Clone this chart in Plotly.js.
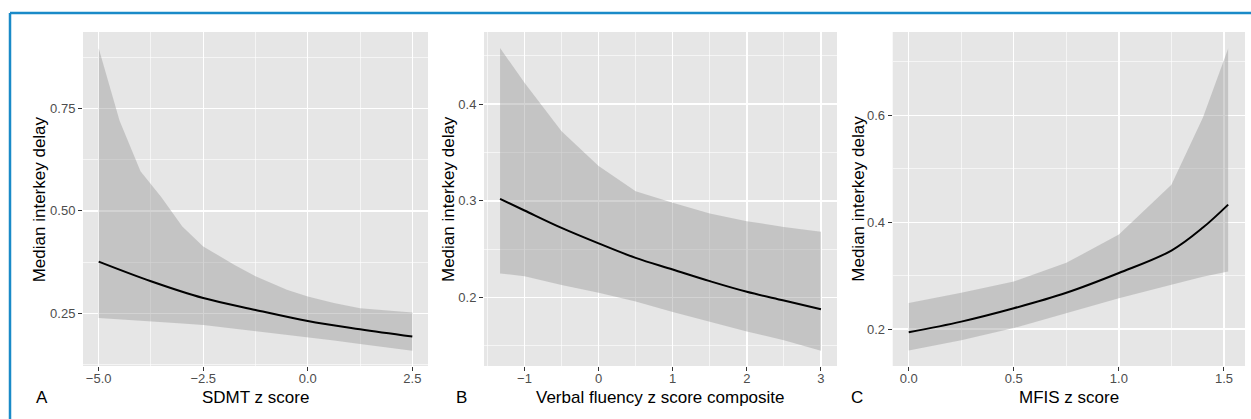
<!DOCTYPE html>
<html>
<head>
<meta charset="utf-8">
<script src="https://cdn.plot.ly/plotly-3.0.1.min.js"></script>
<style>
html,body{margin:0;padding:0;background:#fff;}
#chart{width:1251px;height:419px;}
</style>
</head>
<body>
<div id="chart"></div>
<script>
// Panel A: SDMT z score
var sdmtFitX   = [-5, -3.75, -2.5, -1.25, 0, 1.25, 2.5];
var sdmtFit    = [0.376, 0.328, 0.287, 0.258, 0.231, 0.211, 0.193];
var sdmtBandX  = [-5, -4.5, -4, -3.5, -3, -2.5, -1.75, -1.25, -0.5, 0, 0.625, 1.25, 2.5];
var sdmtUpper  = [0.897, 0.720, 0.597, 0.533, 0.462, 0.413, 0.368, 0.340, 0.307, 0.291, 0.275, 0.262, 0.252];
var sdmtLower  = [0.238, 0.235, 0.232, 0.229, 0.225, 0.221, 0.212, 0.207, 0.198, 0.191, 0.183, 0.175, 0.158];

// Panel B: Verbal fluency z score composite
var vfX        = [-1.33, -1, -0.5, 0, 0.5, 1, 1.5, 2, 2.5, 3];
var vfFit      = [0.302, 0.290, 0.272, 0.256, 0.241, 0.229, 0.217, 0.206, 0.197, 0.188];
var vfUpper    = [0.458, 0.422, 0.372, 0.336, 0.310, 0.298, 0.287, 0.279, 0.273, 0.268];
var vfLower    = [0.225, 0.222, 0.213, 0.205, 0.196, 0.185, 0.175, 0.165, 0.156, 0.145];

// Panel C: MFIS z score
var mfisX      = [0, 0.25, 0.5, 0.75, 1, 1.25, 1.4, 1.52];
var mfisFit    = [0.194, 0.214, 0.239, 0.268, 0.305, 0.347, 0.390, 0.433];
var mfisUpper  = [0.249, 0.268, 0.289, 0.324, 0.377, 0.470, 0.596, 0.725];
var mfisLower  = [0.160, 0.179, 0.202, 0.230, 0.258, 0.283, 0.298, 0.308];

var xTitles = ["SDMT z score", "Verbal fluency z score composite", "MFIS z score"];
var yTitle = "Median interkey delay";
var panelLetters = ["A", "B", "C"];

var W = 1251, H = 419;
var ribbonFill = "rgba(150,150,150,0.42)";
var bg = "#e6e6e6";

function band(bx, lo, hi, fx, fit, xa, ya) {
  return [
    {x: bx, y: lo, xaxis: xa, yaxis: ya, mode: "lines", line: {width: 0, color: "rgba(0,0,0,0)"}, hoverinfo: "skip", showlegend: false},
    {x: bx, y: hi, xaxis: xa, yaxis: ya, mode: "lines", line: {width: 0, color: "rgba(0,0,0,0)"}, fill: "tonexty", fillcolor: ribbonFill, hoverinfo: "skip", showlegend: false},
    {x: fx, y: fit, xaxis: xa, yaxis: ya, mode: "lines", line: {width: 2, color: "#000000", shape: "spline", smoothing: 1}, showlegend: false}
  ];
}

var data = [].concat(
  band(sdmtBandX, sdmtLower, sdmtUpper, sdmtFitX, sdmtFit, "x", "y"),
  band(vfX, vfLower, vfUpper, vfX, vfFit, "x2", "y2"),
  band(mfisX, mfisLower, mfisUpper, mfisX, mfisFit, "x3", "y3")
);

var tickFont = {family: "Liberation Sans, Arial, sans-serif", size: 13, color: "#4d4d4d"};
function ax(domain, range, dtick, minorDtick, fmt, anchor, isX) {
  var a = {
    domain: domain, range: range, anchor: anchor,
    tickmode: "linear", tick0: 0, dtick: dtick, tickformat: fmt,
    ticks: "outside", ticklen: 4, tickwidth: 1, tickcolor: "#333333",
    tickfont: tickFont,
    showgrid: true, gridcolor: "#ffffff", gridwidth: 1.4,
    minor: {tickmode: "linear", tick0: 0, dtick: minorDtick, showgrid: true, gridcolor: "#ffffff", gridwidth: 0.6, ticks: ""},
    zeroline: false, showline: false, fixedrange: true, automargin: false
  };
  if (isX) { a.ticklabelstandoff = -4; }
  return a;
}

function px(x) { return x / W; }
function py(y) { return 1 - y / H; }

var yDom = [py(366), py(32)];
var dA = [px(83), px(428)], dB = [px(484), px(837)], dC = [px(892.7), px(1245)];

var layout = {
  width: W, height: H,
  margin: {l: 0, r: 0, t: 0, b: 0},
  paper_bgcolor: "#ffffff",
  plot_bgcolor: bg,
  showlegend: false,
  xaxis:  ax(dA, [-5.375, 2.875], 2.5, 1.25, ".1f", "y", true),
  yaxis:  ax(yDom, [0.121, 0.937], 0.25, 0.125, ".2f", "x", false),
  xaxis2: ax(dB, [-1.5465, 3.2165], 1, 0.5, "d", "y2", true),
  yaxis2: ax(yDom, [0.1293, 0.4745], 0.1, 0.05, ".1f", "x2", false),
  xaxis3: ax(dC, [-0.0762, 1.6002], 0.5, 0.25, ".1f", "y3", true),
  yaxis3: ax(yDom, [0.131, 0.756], 0.2, 0.1, ".1f", "x3", false),
  shapes: [
    {type: "line", xref: "paper", yref: "paper", x0: px(10), x1: 1, y0: py(13), y1: py(13), line: {color: "#1a8ac8", width: 2.5}},
    {type: "line", xref: "paper", yref: "paper", x0: px(10), x1: px(10), y0: py(13), y1: 0, line: {color: "#1a8ac8", width: 2.5}}
  ],
  annotations: []
};

var titleFont = {family: "Liberation Sans, Arial, sans-serif", size: 17, color: "#000000"};
var yTitleX = [39.3, 448, 857.7];
var xCenters = [(83 + 428) / 2, (484 + 837) / 2, (892.7 + 1245) / 2];
var letterX = [42, 461, 857];
for (var i = 0; i < 3; i++) {
  layout.annotations.push({text: yTitle, xref: "paper", yref: "paper", x: px(yTitleX[i]), y: py(199), xanchor: "center", yanchor: "middle", textangle: -90, showarrow: false, font: titleFont});
  layout.annotations.push({text: xTitles[i], xref: "paper", yref: "paper", x: px(xCenters[i]), y: py(397), xanchor: "center", yanchor: "middle", showarrow: false, font: titleFont});
  layout.annotations.push({text: panelLetters[i], xref: "paper", yref: "paper", x: px(letterX[i]), y: py(397), xanchor: "center", yanchor: "middle", showarrow: false, font: titleFont});
}

Plotly.newPlot("chart", data, layout, {staticPlot: true, displayModeBar: false});
</script>
</body>
</html>
